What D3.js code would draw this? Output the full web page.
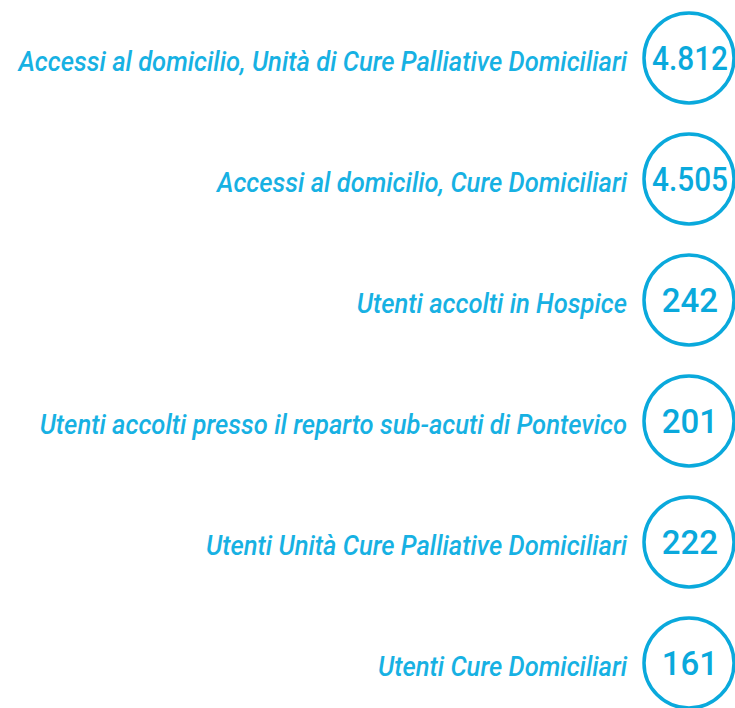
<!DOCTYPE html>
<html>
<head>
<meta charset="utf-8">
<script src="https://cdn.jsdelivr.net/npm/d3@7"></script>
<style>
  body { margin: 0; background: #fff; }
  svg { display: block; }
</style>
</head>
<body>
<svg id="chart" width="735" height="708"></svg>
<script>
var labels = [
  "Accessi al domicilio, Unità di Cure Palliative Domiciliari",
  "Accessi al domicilio, Cure Domiciliari",
  "Utenti accolti in Hospice",
  "Utenti accolti presso il reparto sub-acuti di Pontevico",
  "Utenti Unità Cure Palliative Domiciliari",
  "Utenti Cure Domiciliari"
];
var values = [4812, 4505, 242, 201, 222, 161];

var svg = d3.select("#chart"),
    color = "#0aa9dc",
    labelColor = "#17b1e3";

var it = d3.formatLocale({decimal: ",", thousands: ".", grouping: [3], currency: ["€", ""]});
var fmt = it.format(",d");

// one row per item
var y = d3.scalePoint()
    .domain(labels)
    .range([58, 663]);

var rows = svg.selectAll(".row")
    .data(labels.map(function(l, i) { return {label: l, value: values[i]}; }))
    .enter().append("g")
    .attr("class", "row")
    .attr("transform", function(d) { return "translate(0," + y(d.label) + ")"; });

rows.append("circle")
    .attr("cx", 689)
    .attr("cy", 0)
    .attr("r", 45)
    .attr("fill", "none")
    .attr("stroke", color)
    .attr("stroke-width", 3.5);

var num = rows.append("text")
    .attr("x", 690)
    .attr("y", 0)
    .attr("dy", "0.36em")
    .attr("text-anchor", "middle")
    .attr("font-family", "Roboto, sans-serif")
    .attr("font-weight", 500)
    .attr("font-size", 33)
    .attr("fill", color)
    .text(function(d) { return fmt(d.value); });

// keep the wide numbers as narrow as in the reference
num.each(function() {
  var w = this.getComputedTextLength();
  if (w > 76) {
    d3.select(this).attr("x", 0)
      .attr("transform", "translate(690,0) scale(" + (76 / w) + ",1)");
  }
});

var lab = rows.append("text")
    .attr("class", "label")
    .attr("x", 0)
    .attr("y", 4)
    .attr("dy", "0.35em")
    .attr("text-anchor", "end")
    .attr("font-family", "Roboto, sans-serif")
    .attr("font-style", "italic")
    .attr("font-weight", 500)
    .attr("font-size", 27)
    .attr("fill", labelColor)
    .text(function(d) { return d.label; });

// the reference uses a condensed face; squeeze to fit the first label's width
var w0 = lab.node().getComputedTextLength(),
    sx = 609 / w0;
lab.attr("transform", "translate(627,0) scale(" + sx + ",1)");
</script>
</body>
</html>
